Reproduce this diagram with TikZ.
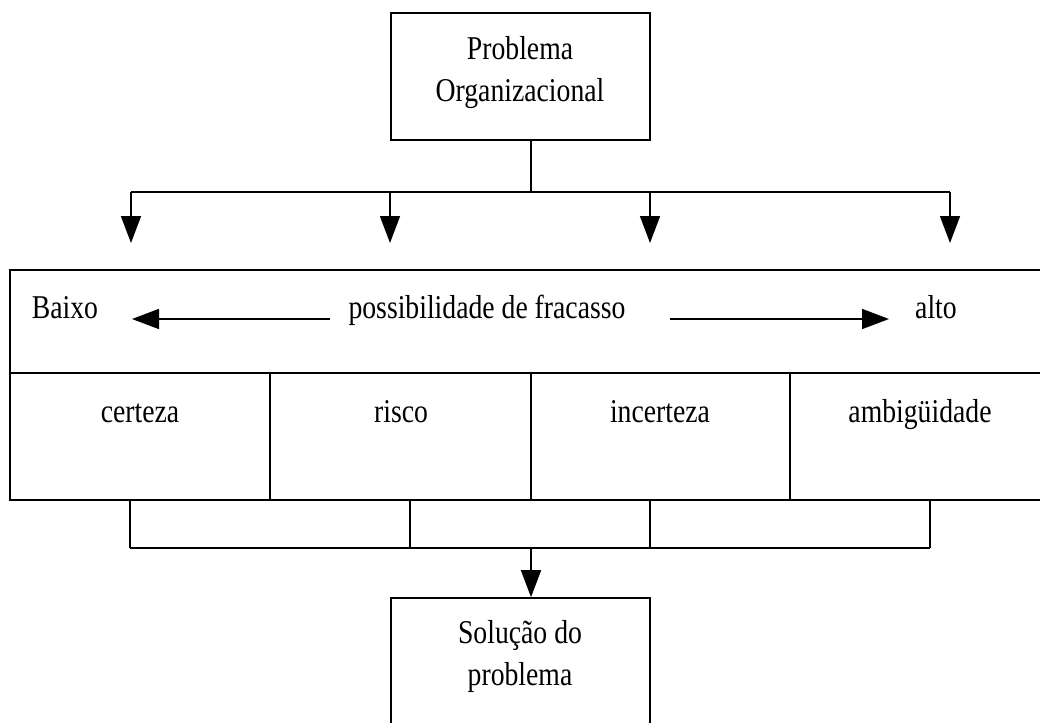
\documentclass[tikz,border=0pt]{standalone}
\usepackage{fontspec}
\setmainfont{Liberation Serif}
\usepackage{graphicx}
\usetikzlibrary{arrows.meta}
\newcommand\vst[1]{\scalebox{1}[1.2]{#1}}
\begin{document}
\begin{tikzpicture}[x=1pt,y=-1pt,
  line width=1.6pt,
  every node/.style={font=\fontsize{27.7}{42}\selectfont, inner sep=0pt},
  box/.style={draw, line width=1.6pt},
  txt/.style={anchor=base},
  label/.style={align=center, anchor=base},
  tip/.style={-{Triangle[width=20pt,length=27pt]}}]
\useasboundingbox (0,0) rectangle (1040,722);
\clip (0,0) rectangle (1040,722);

% top box
\node[box, minimum width=259, minimum height=127] (prob) at (520.5,76.5) {};
\node[label] (probtxt) at (520,102) {\vst{Problema}\\\vst{Organizacional}};

% distribution to the four arrows
\coordinate (j1) at (531,192);
\coordinate (a1) at (131,192);
\coordinate (a2) at (390,192);
\coordinate (a3) at (650,192);
\coordinate (a4) at (950,192);
\coordinate (t1) at (131,243);
\coordinate (t2) at (390,243);
\coordinate (t3) at (650,243);
\coordinate (t4) at (950,243);
\draw (prob.south -| j1) -- (j1);
\draw (a1) -- (a4);
\draw[tip] (a1) -- (t1);
\draw[tip] (a2) -- (t2);
\draw[tip] (a3) -- (t3);
\draw[tip] (a4) -- (t4);

% big frame
\node[box, minimum width=1031, minimum height=230] (frame) at (525.5,385) {};
\coordinate (row) at (0,373);
\draw (frame.west |- row) -- (frame.east |- row);
\coordinate (d1) at (270,373);
\coordinate (d2) at (531,373);
\coordinate (d3) at (790,373);
\draw (d1) -- (frame.south -| d1);
\draw (d2) -- (frame.south -| d2);
\draw (d3) -- (frame.south -| d3);

% scale row
\node[txt] (baixo) at (65,318) {\vst{Baixo}};
\node[txt] (poss) at (487,318) {\vst{possibilidade de fracasso}};
\node[txt] (alto) at (936,318) {\vst{alto}};
\coordinate (arrLs) at (330,319);
\coordinate (arrL) at (132,319);
\coordinate (arrRs) at (670,319);
\coordinate (arrR) at (889,319);
\draw[tip] (arrLs) -- (arrL);
\draw[tip] (arrRs) -- (arrR);

% cells
\node[txt] (c1) at (140,422) {\vst{certeza}};
\node[txt] (c2) at (401,422) {\vst{risco}};
\node[txt] (c3) at (660,422) {\vst{incerteza}};
\node[txt] (c4) at (920,422) {\vst{ambigüidade}};

% gathering lines
\coordinate (u1) at (130,500);
\coordinate (u2) at (410,500);
\coordinate (u3) at (650,500);
\coordinate (u4) at (930,500);
\coordinate (v1) at (130,548);
\coordinate (v2) at (410,548);
\coordinate (v3) at (650,548);
\coordinate (v4) at (930,548);
\coordinate (j2) at (531,548);
\draw (u1) -- (v1);
\draw (u2) -- (v2);
\draw (u3) -- (v3);
\draw (u4) -- (v4);
\draw (v1) -- (v4);

% bottom box
\node[box, minimum width=259, minimum height=162] (sol) at (520.5,679) {};
\node[label] (soltxt) at (520,685) {\vst{Solução do}\\\vst{problema}};
\draw[tip] (j2) -- (sol.north -| j2);
\end{tikzpicture}
\end{document}
